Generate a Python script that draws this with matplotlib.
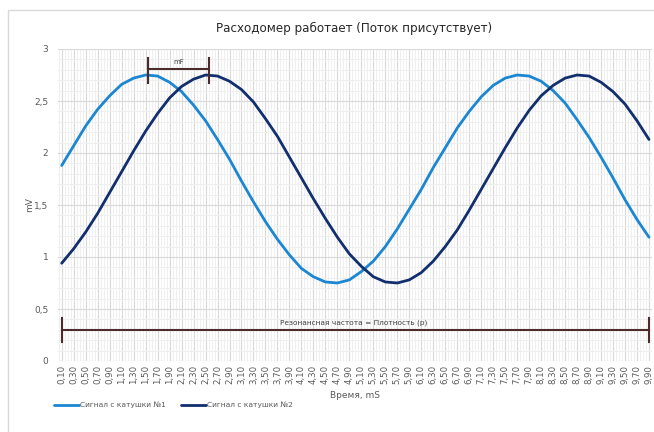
import numpy as np
import matplotlib
matplotlib.use("Agg")
import matplotlib.pyplot as plt
from matplotlib.patches import Rectangle
from matplotlib.ticker import FuncFormatter, MultipleLocator

# %%
# Data
time_labels = ["0,10", "0,30", "0,50", "0,70", "0,90", "1,10", "1,30", "1,50", "1,70", "1,90",
               "2,10", "2,30", "2,50", "2,70", "2,90", "3,10", "3,30", "3,50", "3,70", "3,90",
               "4,10", "4,30", "4,50", "4,70", "4,90", "5,10", "5,30", "5,50", "5,70", "5,90",
               "6,10", "6,30", "6,50", "6,70", "6,90", "7,10", "7,30", "7,50", "7,70", "7,90",
               "8,10", "8,30", "8,50", "8,70", "8,90", "9,10", "9,30", "9,50", "9,70", "9,90"]

coil1 = [1.88, 2.07, 2.26, 2.42, 2.55, 2.66, 2.72, 2.75, 2.74, 2.68,
         2.59, 2.46, 2.31, 2.13, 1.94, 1.73, 1.53, 1.34, 1.17, 1.02,
         0.89, 0.81, 0.76, 0.75, 0.78, 0.86, 0.96, 1.10, 1.27, 1.46,
         1.65, 1.86, 2.05, 2.24, 2.40, 2.54, 2.65, 2.72, 2.75, 2.74,
         2.69, 2.60, 2.48, 2.32, 2.15, 1.96, 1.76, 1.55, 1.36, 1.19]

coil2 = [0.94, 1.08, 1.24, 1.42, 1.62, 1.82, 2.02, 2.21, 2.38, 2.53,
         2.64, 2.71, 2.75, 2.74, 2.69, 2.61, 2.49, 2.33, 2.16, 1.96,
         1.76, 1.56, 1.37, 1.19, 1.03, 0.91, 0.81, 0.76, 0.75, 0.78,
         0.85, 0.96, 1.10, 1.26, 1.45, 1.65, 1.85, 2.05, 2.24, 2.41,
         2.55, 2.65, 2.72, 2.75, 2.74, 2.68, 2.59, 2.47, 2.31, 2.13]

series_names = ["Сигнал с катушки №1", "Сигнал с катушки №2"]
series_colors = ["#1b86d1", "#112f6e"]

# annotation values (category index / mV)
mf_start, mf_end, mf_level = 7.17, 12.33, 2.81
res_level = 0.30

# %%
W, H = 654, 432
fig = plt.figure(figsize=(W / 100, H / 100), dpi=100)

# outer chart border (cut off at right and bottom as in the reference)
fig.patches.append(Rectangle((8 / W, -0.1), 1.2, 1 - 10 / H + 0.1, transform=fig.transFigure,
                             fill=False, ec="#d9d9d9", lw=1.0))

ax = fig.add_axes([58 / W, 1 - 361 / H, (652 - 58) / W, (361 - 49) / H])
x = np.arange(len(time_labels))

for vals, name, col in zip([coil1, coil2], series_names, series_colors):
    ax.plot(x, vals, color=col, lw=2.0, label=name, solid_capstyle="round",
            solid_joinstyle="round", zorder=4)

# gridlines
ax.yaxis.set_major_locator(MultipleLocator(0.5))
ax.yaxis.set_minor_locator(MultipleLocator(0.1))
ax.set_xticks(x)
ax.set_xticks(np.arange(-0.25, len(time_labels), 0.25), minor=True)
ax.grid(which="minor", color="#efefef", lw=0.7, zorder=0)
ax.grid(which="major", color="#d9d9d9", lw=0.8, zorder=1)
ax.tick_params(which="both", length=0)
ax.tick_params(axis="x", colors="#595959", labelsize=6.2, pad=3)
ax.tick_params(axis="y", colors="#595959", labelsize=6.5, pad=7)
ax.set_xticklabels(time_labels, rotation=90)
ax.yaxis.set_major_formatter(FuncFormatter(lambda v, p: f"{v:g}".replace(".", ",")))
for sp in ax.spines.values():
    sp.set_visible(False)

ax.set_xlim(-0.31, len(time_labels) - 0.75)
ax.set_ylim(0, 3)

ax.set_xlabel("Время, mS", fontsize=6.5, color="#595959", labelpad=5)
ax.set_ylabel("mV", fontsize=6.5, color="#595959", labelpad=0)

# mF bracket between peaks
bc = "#4b2b2b"
ax.plot([mf_start, mf_end], [mf_level, mf_level], color=bc, lw=1.5, zorder=5)
for xx in (mf_start, mf_end):
    ax.plot([xx, xx], [mf_level - 0.14, mf_level + 0.1], color=bc, lw=1.5, zorder=5)
ax.text((mf_start + mf_end) / 2, mf_level + 0.04, "mF", ha="center", va="bottom",
        fontsize=5, color="#404040", zorder=6)

# resonance frequency bar
ax.plot([x[0], x[-1]], [res_level, res_level], color=bc, lw=1.5, zorder=5)
for xx in (x[0], x[-1]):
    ax.plot([xx, xx], [res_level - 0.12, res_level + 0.11], color=bc, lw=1.5, zorder=5)
ax.text(24.4, res_level + 0.04, "Резонансная частота = Плотность (р)", ha="center",
        va="bottom", fontsize=5.3, color="#404040", zorder=6)

fig.text(354 / W, 1 - 28 / H, "Расходомер работает (Поток присутствует)", ha="center",
         va="center", fontsize=8.6, color="#262626")

leg = ax.legend(loc="lower left", bbox_to_anchor=(47 / W, 1 - 415 / H), bbox_transform=fig.transFigure,
                ncol=2, frameon=False, fontsize=5.4, handlelength=3.4, handletextpad=0.1,
                columnspacing=2.0, labelcolor="#595959")

fig.savefig("out.png", dpi=100)
